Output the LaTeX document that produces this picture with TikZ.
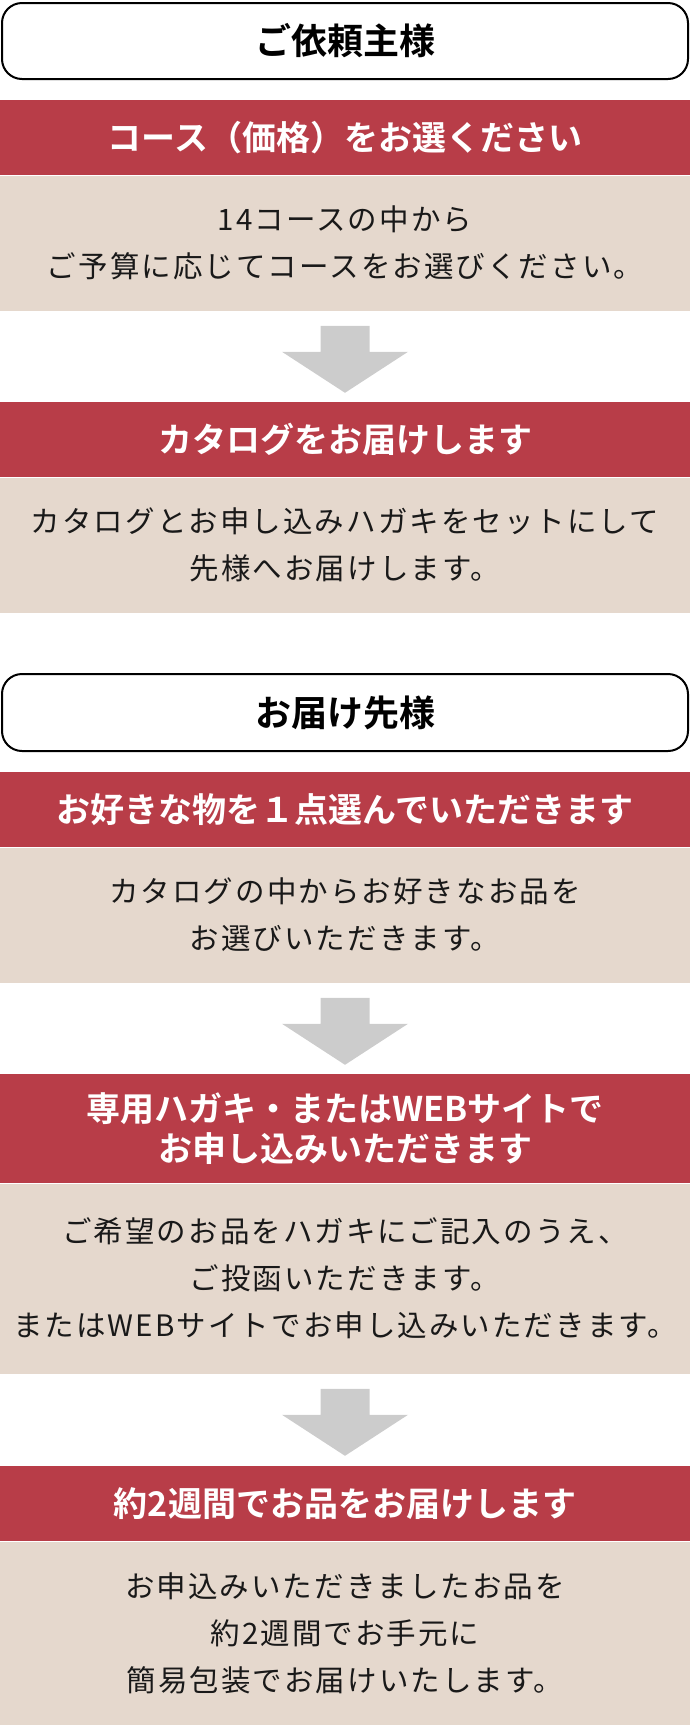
\documentclass[tikz,border=0pt]{standalone}
\usepackage{fontspec}
\newfontfamily\jpfont{Noto Sans CJK JP}[BoldFont={Noto Sans CJK JP Bold}]
\newfontfamily\jpbody{Noto Sans CJK JP}[LetterSpace=7]
\usetikzlibrary{positioning, calc}

\definecolor{barred}{HTML}{B83D48}
\definecolor{panelbeige}{HTML}{E5D8CD}
\definecolor{arrowgray}{HTML}{CCCCCC}

\tikzset{
  rolebox/.style={draw=black, line width=2pt, rounded corners=20pt, fill=white,
    minimum width=686pt, anchor=north, inner sep=0pt,
    font=\jpfont\bfseries\fontsize{36}{40}\selectfont},
  redbar/.style={fill=barred, text=white, minimum width=690pt, anchor=north,
    align=center, inner sep=0pt, font=\jpfont\bfseries\fontsize{34}{40}\selectfont},
  panel/.style={fill=panelbeige, text=black!90, minimum width=690pt, align=center,
    inner sep=0pt, font=\jpbody\fontsize{29.5}{47}\selectfont},
}

% block arrow under a panel
\newcommand\grayarrow[1]{%
  \fill[arrowgray] ($(#1.south)+(-24.5,15)$) -- ++(49,0) -- ++(0,26) -- ++(38.5,0)
    -- ($(#1.south)+(0,82)$) -- ($(#1.south)+(-63,41)$) -- ++(38.5,0) -- cycle;}

\begin{document}
\begin{tikzpicture}[x=1pt, y=-1pt]
    \useasboundingbox (0,0) rectangle (690,1725);
    % Client
    \node[rolebox, minimum height=76pt] (client) at (345,2) {ご依頼主様};
    \node[redbar, minimum height=75pt] (course) at (345,100) {コース（価格）をお選ください};
    \node[panel, minimum height=135pt, below=0pt of course] (coursetxt)
        {14コースの中から\\ご予算に応じてコースをお選びください。};
    \node[redbar, minimum height=75pt] (catalog) at (345,402) {カタログをお届けします};
    \node[panel, minimum height=135pt, below=0pt of catalog] (catalogtxt)
        {カタログとお申し込みハガキをセットにして\\先様へお届けします。};

    % Recipient
    \node[rolebox, minimum height=77pt] (recipient) at (345,673) {お届け先様};
    \node[redbar, minimum height=75pt] (choose) at (345,772) {お好きな物を１点選んでいただきます};
    \node[panel, minimum height=135pt, below=0pt of choose] (choosetxt)
        {カタログの中からお好きなお品を\\お選びいただきます。};
    \node[redbar, minimum height=109pt] (apply) at (345,1074)
        {専用ハガキ・またはWEBサイトで\\お申し込みいただきます};
    \node[panel, minimum height=190pt, below=0pt of apply] (applytxt)
        {ご希望のお品をハガキにご記入のうえ、\\ご投函いただきます。\\またはWEBサイトでお申し込みいただきます。};
    \node[redbar, minimum height=75pt] (deliver) at (345,1466) {約2週間でお品をお届けします};
    \node[panel, minimum height=184pt, below=0pt of deliver] (delivertxt)
        {お申込みいただきましたお品を\\約2週間でお手元に\\簡易包装でお届けいたします。};

    % Arrows
    \grayarrow{coursetxt}
    \grayarrow{choosetxt}
    \grayarrow{applytxt}
\end{tikzpicture}
\end{document}
